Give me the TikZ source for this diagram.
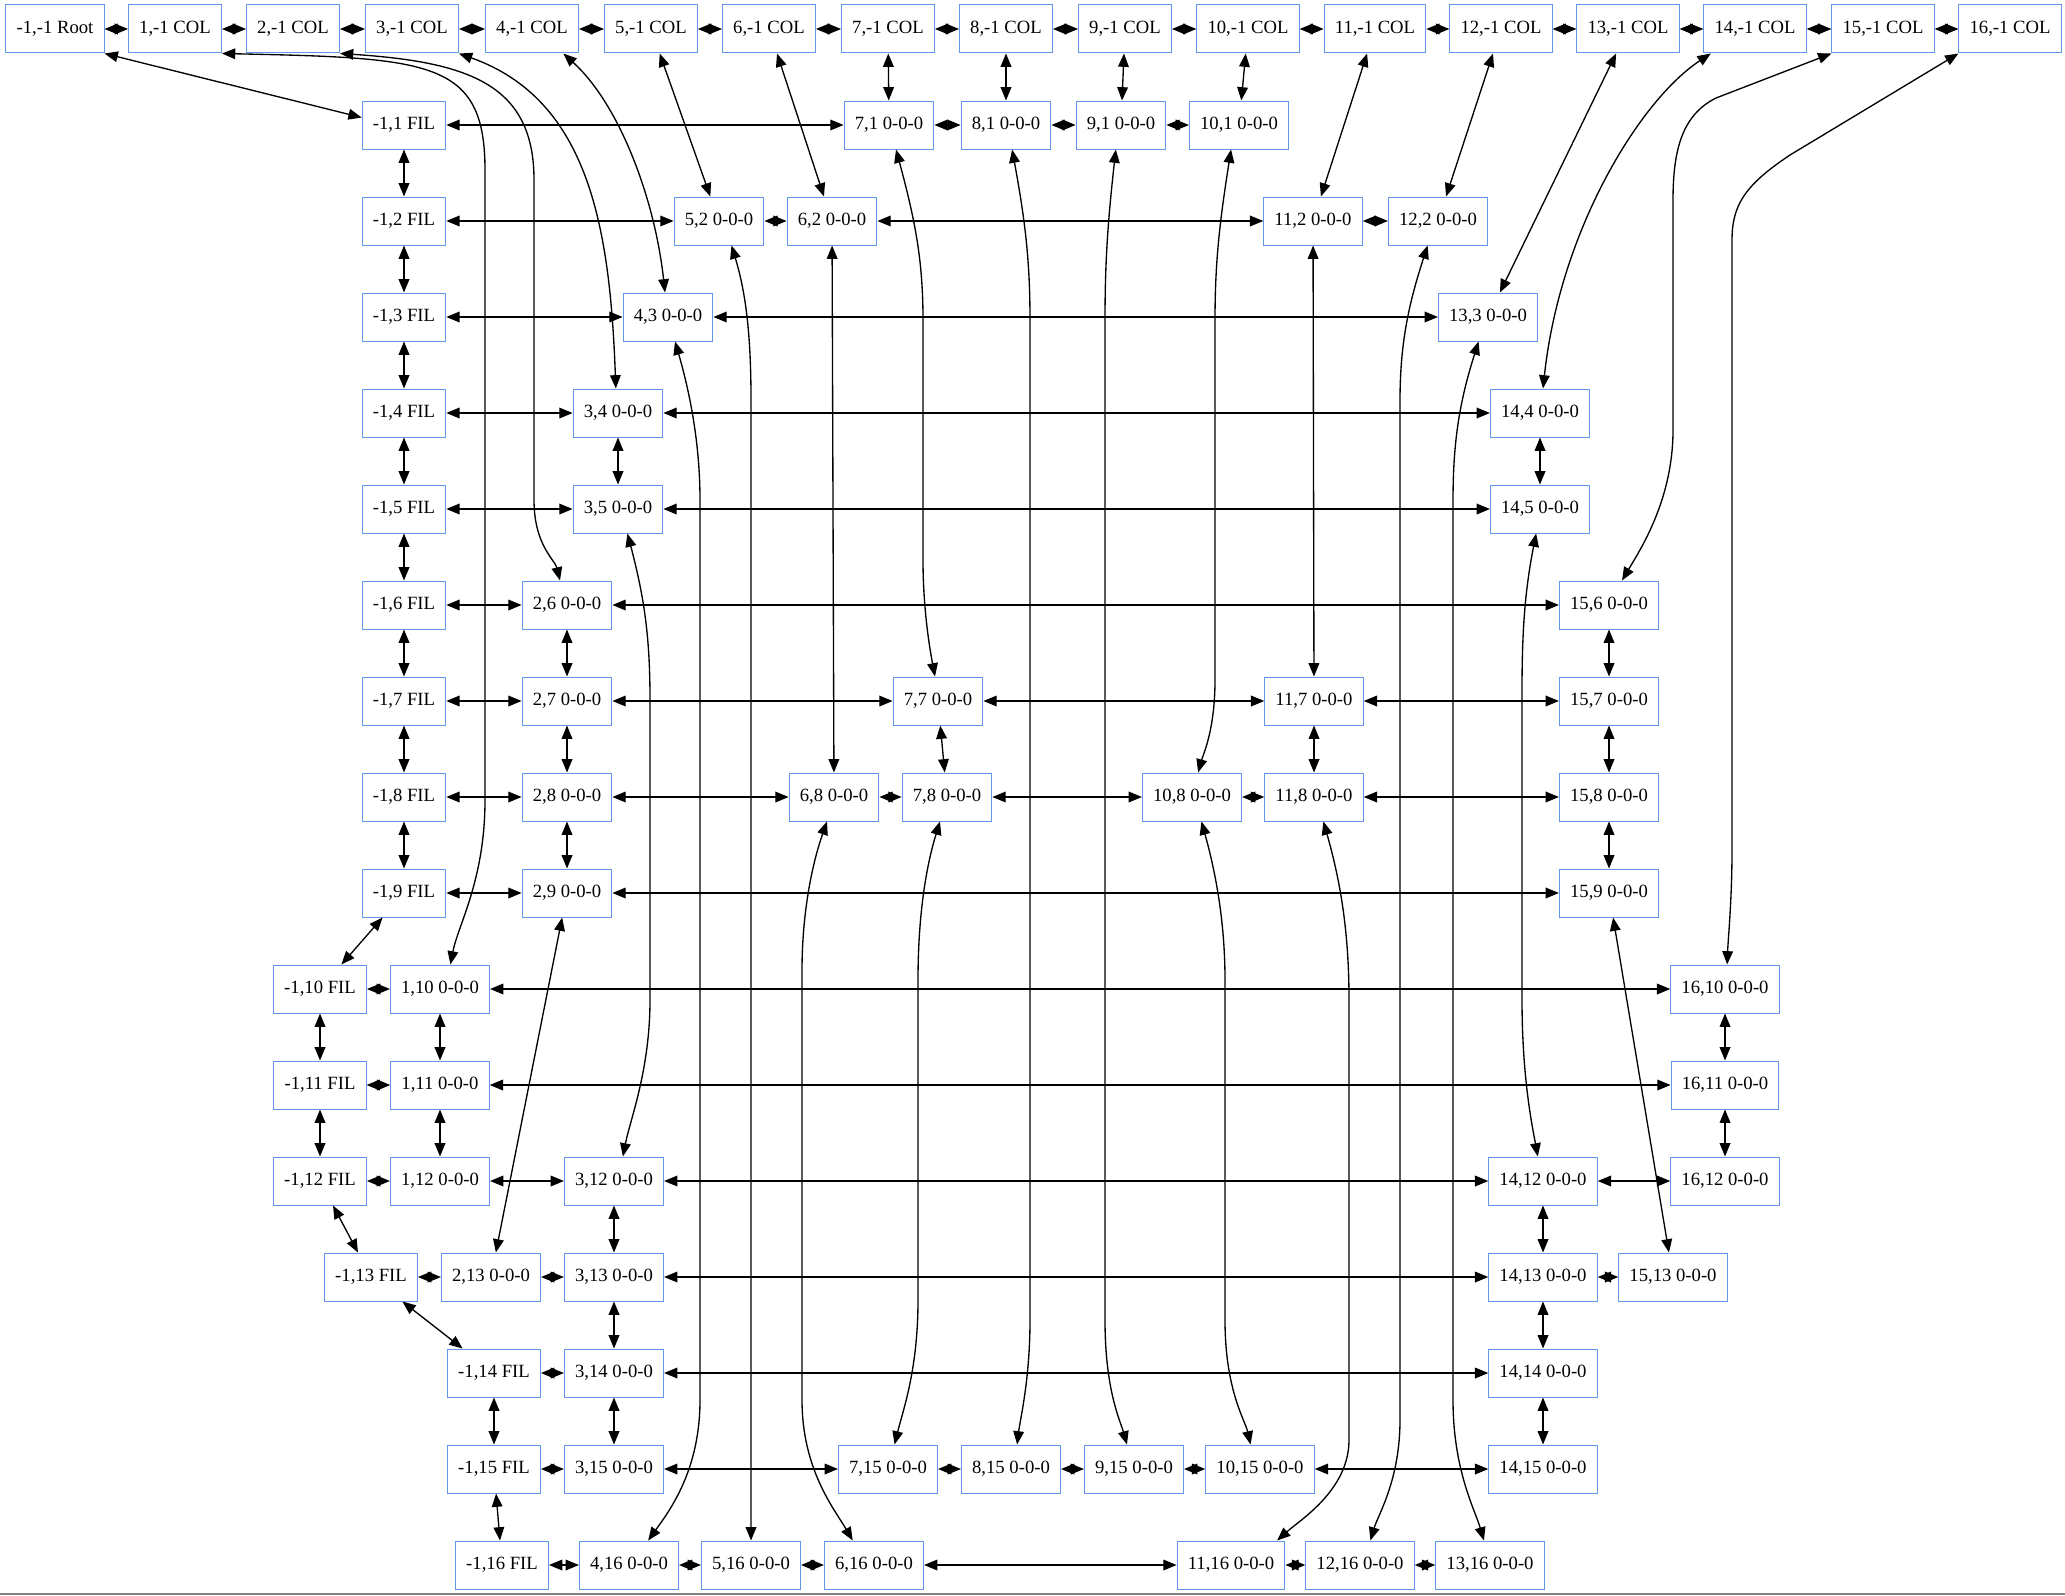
\documentclass[tikz,border=0pt]{standalone}
\usepackage{fontspec}
\setmainfont{Liberation Serif}
\usetikzlibrary{arrows.meta}

\definecolor{boxblue}{RGB}{100,149,237}

\tikzset{
    dlxbox/.style={draw=boxblue, line width=0.75pt, fill=white, minimum height=36pt,
        inner xsep=8pt, inner ysep=0pt, font=\fontsize{14}{16}\selectfont},
    lnk/.style={line width=1pt, {Triangle[length=10pt,width=8pt]}-{Triangle[length=10pt,width=8pt]}}
}

\begin{document}
\begin{tikzpicture}[x=0.75pt, y=-0.75pt]
\useasboundingbox (0,0) rectangle (2065,1595);

% Root and column headers
\node[dlxbox] (root) at (55,29) {-1,-1 Root};
\foreach \cn/\x in {1/175, 2/293, 3/412, 4/532, 5/651, 6/769, 7/888, 8/1006, 9/1125,
                    10/1248, 11/1375, 12/1501, 13/1628, 14/1755, 15/1883, 16/2010} {
    \node[dlxbox] (c\cn) at (\x,29) {\cn,-1 COL};
}

% Row headers
\foreach \rn/\x in {1/404, 2/404, 3/404, 4/404, 5/404, 6/404, 7/404, 8/404, 9/404,
                    10/320, 11/320, 12/320, 13/371, 14/494, 15/494, 16/502} {
    \node[dlxbox] (f\rn) at (\x,{29+96*\rn}) {-1,\rn\ FIL};
}

% Cells
\foreach \cn/\rn/\x in {7/1/889, 8/1/1006, 9/1/1121, 10/1/1239,
        5/2/719, 6/2/832, 11/2/1313, 12/2/1438,
        4/3/668, 13/3/1488,
        3/4/618, 14/4/1540,
        3/5/618, 14/5/1540,
        2/6/567, 15/6/1609,
        2/7/567, 7/7/938, 11/7/1314, 15/7/1609,
        2/8/567, 6/8/834, 7/8/947, 10/8/1192, 11/8/1314, 15/8/1609,
        2/9/567, 15/9/1609,
        1/10/440, 16/10/1725,
        1/11/440, 16/11/1725,
        1/12/440, 3/12/614, 14/12/1543, 16/12/1725,
        2/13/491, 3/13/614, 14/13/1543, 15/13/1673,
        3/14/614, 14/14/1543,
        3/15/614, 7/15/888, 8/15/1011, 9/15/1134, 10/15/1260, 14/15/1543,
        4/16/629, 5/16/751, 6/16/874, 11/16/1231, 12/16/1360, 13/16/1490} {
    \node[dlxbox] (n\cn-\rn) at (\x,{29+96*\rn}) {\cn,\rn\ 0-0-0};
}

% Left-right links
\draw[lnk] (root) -- (c1);
\foreach \cn [evaluate=\cn as \nx using int(\cn+1)] in {1,...,15} {
    \draw[lnk] (c\cn) -- (c\nx);
}
\foreach \a/\b in {f1/n7-1, n7-1/n8-1, n8-1/n9-1, n9-1/n10-1,
        f2/n5-2, n5-2/n6-2, n6-2/n11-2, n11-2/n12-2,
        f3/n4-3, n4-3/n13-3,
        f4/n3-4, n3-4/n14-4,
        f5/n3-5, n3-5/n14-5,
        f6/n2-6, n2-6/n15-6,
        f7/n2-7, n2-7/n7-7, n7-7/n11-7, n11-7/n15-7,
        f8/n2-8, n2-8/n6-8, n6-8/n7-8, n7-8/n10-8, n10-8/n11-8, n11-8/n15-8,
        f9/n2-9, n2-9/n15-9,
        f10/n1-10, n1-10/n16-10,
        f11/n1-11, n1-11/n16-11,
        f12/n1-12, n1-12/n3-12, n3-12/n14-12, n14-12/n16-12,
        f13/n2-13, n2-13/n3-13, n3-13/n14-13, n14-13/n15-13,
        f14/n3-14, n3-14/n14-14,
        f15/n3-15, n3-15/n7-15, n7-15/n8-15, n8-15/n9-15, n9-15/n10-15, n10-15/n14-15,
        f16/n4-16, n4-16/n5-16, n5-16/n6-16, n6-16/n11-16, n11-16/n12-16, n12-16/n13-16} {
    \draw[lnk] (\a) -- (\b);
}

% Up-down links, straight
\draw[lnk] (root.south east) -- (f1.170);
\foreach \rn [evaluate=\rn as \nx using int(\rn+1)] in {1,...,15} {
    \draw[lnk] (f\rn) -- (f\nx);
}
\foreach \a/\b in {c5/n5-2, c6/n6-2, c7/n7-1, c8/n8-1, c9/n9-1, c10/n10-1,
        c11/n11-2, c12/n12-2, c13/n13-3,
        n1-10/n1-11, n1-11/n1-12,
        n2-6/n2-7, n2-7/n2-8, n2-8/n2-9, n2-9/n2-13,
        n3-4/n3-5, n3-12/n3-13, n3-13/n3-14, n3-14/n3-15,
        n6-2/n6-8, n7-7/n7-8, n11-2/n11-7, n11-7/n11-8,
        n14-4/n14-5, n14-12/n14-13, n14-13/n14-14, n14-14/n14-15,
        n15-6/n15-7, n15-7/n15-8, n15-8/n15-9, n15-9/n15-13,
        n16-10/n16-11, n16-11/n16-12} {
    \draw[lnk] (\a) -- (\b);
}

% Up-down links, curved
\draw[lnk] (c1.south east) .. controls (430,58) and (485,60) .. (485,170) -- (485,800)
    .. controls (485,880) and (458,925) .. (n1-10.67);
\draw[lnk] (c2.south east) .. controls (470,62) and (534,85) .. (534,180) -- (534,500)
    .. controls (534,545) and (555,560) .. (n2-6.106);
\draw[lnk] (c3.south east) .. controls (590,100) and (610,230) .. (n3-4.95);
\draw[lnk] (c4.-38) .. controls (620,105) and (655,200) .. (n4-3.97);
\draw[lnk] (c14.-151) .. controls (1640,100) and (1560,230) .. (n14-4.83);
\draw[lnk] (c15.south west) -- (1716,98) .. controls (1682,115) and (1673,150) .. (1673,200)
    -- (1673,430) .. controls (1673,500) and (1640,550) .. (n15-6.62);
\draw[lnk] (c16.south west) -- (1790,155) .. controls (1745,185) and (1732,205) .. (1732,240)
    -- (1732,850) .. controls (1732,900) and (1728,940) .. (n16-10.85);
\draw[lnk] (n3-5.-69) .. controls (645,600) and (650,640) .. (650,700) -- (650,1000)
    .. controls (650,1070) and (630,1120) .. (n3-12.70);
\draw[lnk] (n4-3.-74) .. controls (692,400) and (700,450) .. (700,500) -- (700,1400)
    .. controls (700,1470) and (670,1510) .. (n4-16.52);
\draw[lnk] (n5-2.-63) .. controls (745,290) and (751,330) .. (751,400) -- (n5-16.north);
\draw[lnk] (n6-8.-106) .. controls (810,870) and (802,920) .. (802,970) -- (802,1400)
    .. controls (802,1470) and (835,1510) .. (n6-16.131);
\draw[lnk] (n7-1.-74) .. controls (915,220) and (923,260) .. (923,320) -- (923,560)
    .. controls (923,610) and (930,650) .. (n7-7.97);
\draw[lnk] (n7-8.-106) .. controls (925,870) and (918,920) .. (918,980) -- (918,1300)
    .. controls (918,1370) and (903,1410) .. (n7-15.75);
\draw[lnk] (n8-1.-76) .. controls (1025,220) and (1030,260) .. (1030,320) -- (1030,1320)
    .. controls (1030,1380) and (1020,1420) .. (n8-15.76);
\draw[lnk] (n9-1.-102) .. controls (1108,220) and (1105,260) .. (1105,320) -- (1105,1320)
    .. controls (1105,1390) and (1120,1420) .. (n9-15.106);
\draw[lnk] (n10-1.-108) .. controls (1220,220) and (1215,260) .. (1215,320) -- (1215,680)
    .. controls (1215,730) and (1203,755) .. (n10-8.76);
\draw[lnk] (n10-8.-69) .. controls (1215,870) and (1225,920) .. (1225,980) -- (1225,1320)
    .. controls (1225,1390) and (1245,1420) .. (n10-15.111);
\draw[lnk] (n11-8.-69) .. controls (1340,880) and (1349,930) .. (1349,1000) -- (1349,1440)
    .. controls (1349,1490) and (1300,1520) .. (n11-16.28);
\draw[lnk] (n12-2.-113) .. controls (1410,300) and (1400,340) .. (1400,400) -- (1400,1420)
    .. controls (1400,1480) and (1378,1515) .. (n12-16.67);
\draw[lnk] (n13-3.-111) .. controls (1460,400) and (1453,440) .. (1453,500) -- (1453,1400)
    .. controls (1453,1470) and (1475,1510) .. (n13-16.104);
\draw[lnk] (n14-5.-99) .. controls (1525,590) and (1522,630) .. (1522,690) -- (1522,1000)
    .. controls (1522,1080) and (1533,1130) .. (n14-12.102);

% Bottom edge
\draw[gray, line width=1pt] (0,1594) -- (2065,1594);

\end{tikzpicture}
\end{document}
